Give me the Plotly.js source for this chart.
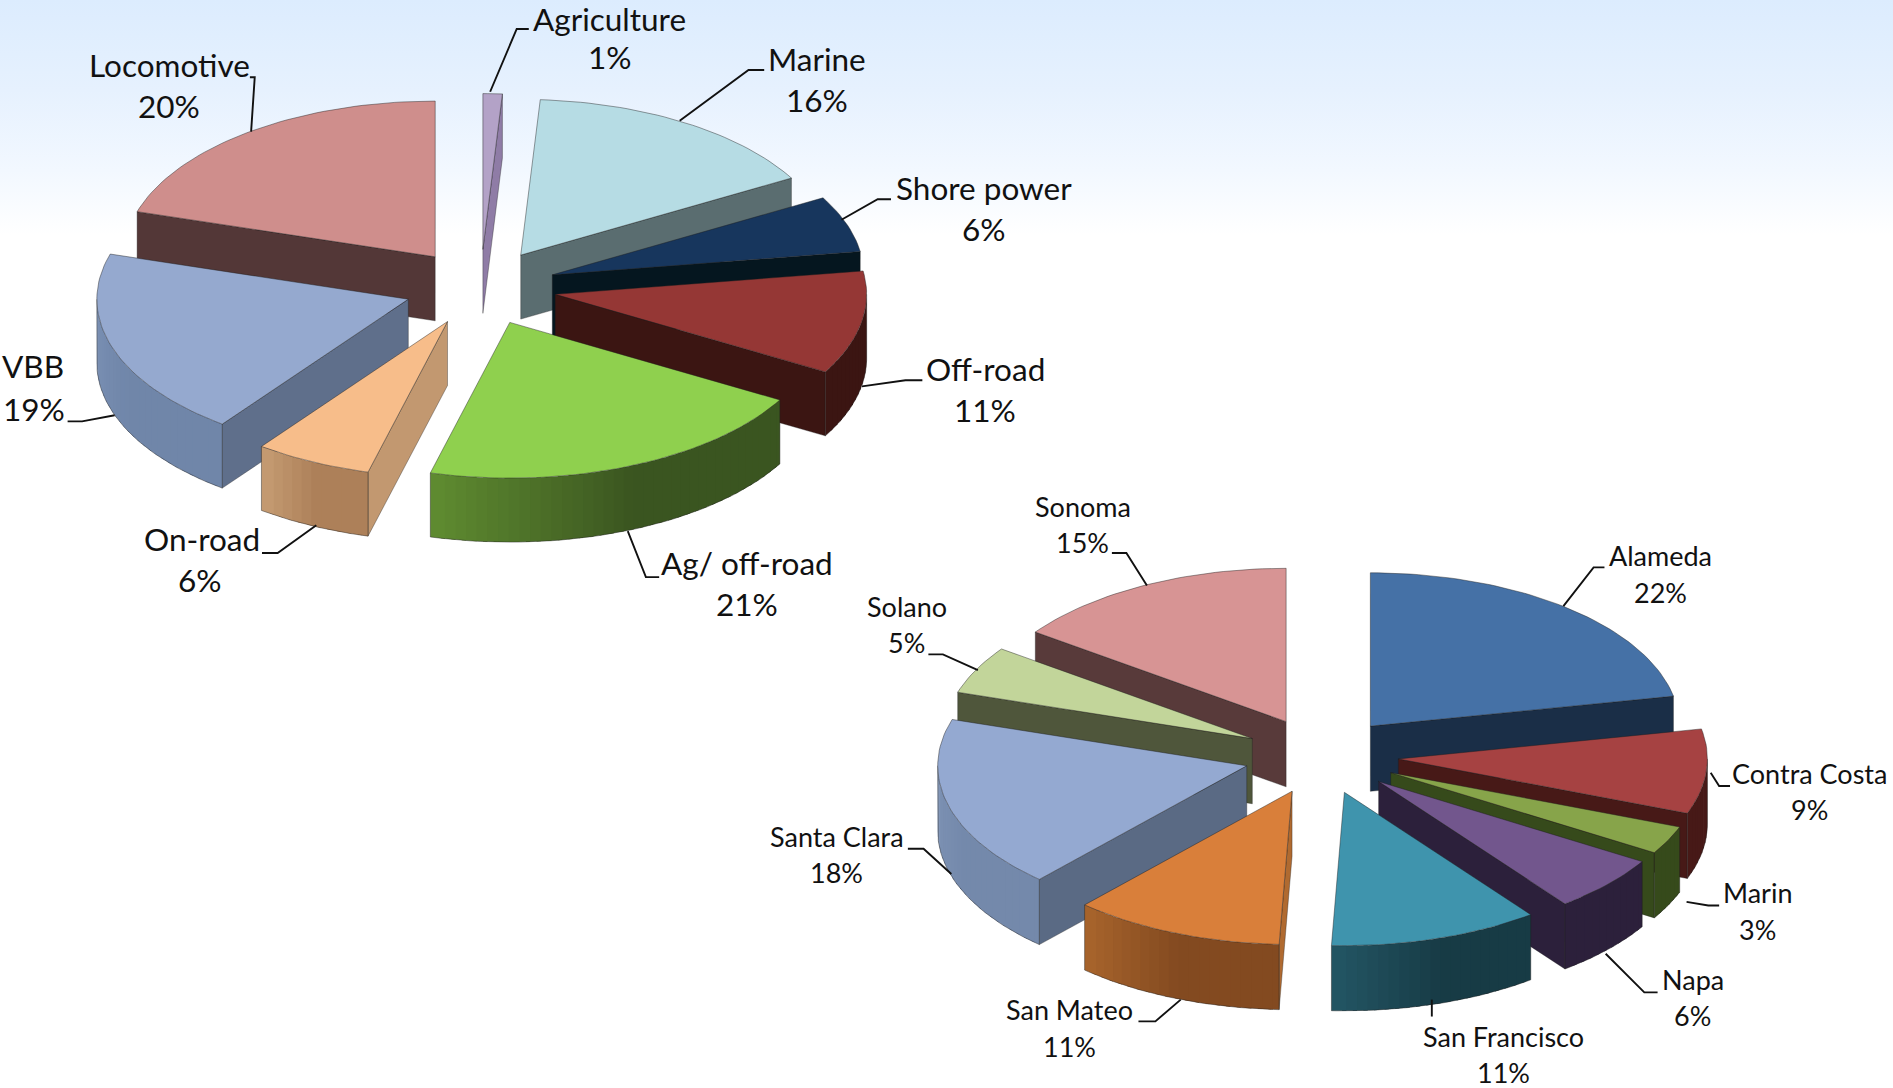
<!DOCTYPE html>
<html><head><meta charset="utf-8">
<script src="https://cdn.plot.ly/plotly-3.0.1.min.js"></script>
<style>
html,body{margin:0;padding:0;width:1893px;height:1088px;overflow:hidden;
background:linear-gradient(to bottom,#dcecfe 0,#e6f1fe 90px,#f2f8ff 170px,#ffffff 235px,#ffffff 100%);}
#chart{width:1893px;height:1088px}
</style></head><body><div id="chart"></div>
<script>
// ---------- data ----------
const sectorNames = ["Agriculture","Marine","Shore power","Off-road","Ag/ off-road","On-road","VBB","Locomotive"];
const sectorShares = [1,16,6,11,21,6,19,20];
const countyNames = ["Alameda","Contra Costa","Marin","Napa","San Francisco","San Mateo","Santa Clara","Solano","Sonoma"];
const countyShares = [22,9,3,6,11,11,18,5,15];

// ---------- styles ----------
const sectorTop  = ["#b3a2c7","#b6dce4","#17365d","#953735","#8fd04e","#f7bd8a","#95a9cf","#cf8e8c"];
const sectorWall = ["#8f7ca6","#5a6d70","#05161f","#3b1512","#3a5520","#c29870","#5f6f8b","#533737"];
const sectorRimL = ["#8f7ca6","#5a6d70","#05161f","#3b1512","#5f8b30","#c59b72","#7a90b4","#533737"];
const sectorRimR = ["#8f7ca6","#5a6d70","#05161f","#3b1512","#3a5520","#ad8059","#7086a9","#533737"];
const countyTop  = ["#4571a6","#a64242","#87a44a","#72568d","#3f94ad","#d97f3a","#94a9d1","#c2d59a","#d79494"];
const countyWall = ["#1a2e47","#471917","#364a1b","#2c203b","#173c46","#b06a30","#5a6a84","#4f563b","#583a3a"];
const countyRimL = ["#1a2e47","#471917","#364a1b","#2c203b","#235564","#a8642c","#7e93b5","#4f563b","#583a3a"];
const countyRimR = ["#1a2e47","#471917","#364a1b","#2c203b","#173b45","#834a20","#7489ab","#4f563b","#583a3a"];

const sectorLabelPos = [[505,17.5,505,49],[677,50,677,84],[815,157,815,191],[816,307,816,341],[619,468,619,502],[167,448,166,482],[27,305,28,340],[140,55,140,89]];
const countyLabelPos = [[1375,462,1375,492],[1499,642,1499,672],[1456,741,1456,771],[1402,813,1402,843],[1245,860,1245,890],[886,838,886,868],[693,694,693,724],[751,504,751,534],[897,421,897,451]];
const leaders = [
 "M406,76 L428,24 L438,24","M563,100 L620,58 L633,58","M697,182 L727,165 L738,165","M714,320 L750,315 L764,315",
 "M520,440 L535,478 L546,478","M262,435 L230,458 L217,458","M95,344 L68,349 L56,349","M208,109 L211,64 L207,64",
 "M1295,502 L1320,470 L1329,470","M1417,640 L1424,651 L1433,651","M1397,747 L1415,750 L1424,750","M1330,790 L1362,822 L1373,822",
 "M1186,828 L1186,842","M978,828 L957,846 L943,846","M788,724 L765,703 L752,703","M810,555 L781,542 L769,542","M950,485 L933,458 L921,458"];

const pies = [
 {names:sectorNames,shares:sectorShares,top:sectorTop,wall:sectorWall,rimL:sectorRimL,rimR:sectorRimR,pos:sectorLabelPos,
  cx:398,cy:238,rx:258,ry:129,depth:53,explode:0.244,warp:3.3,fs:31.5},
 {names:countyNames,shares:countyShares,top:countyTop,wall:countyWall,rimL:countyRimL,rimR:countyRimR,pos:countyLabelPos,
  cx:1094.5,cy:626,rx:256,ry:127,depth:54,explode:0.25,warp:1.2,fs:27}
];

// ---------- drawing ----------
const traces = [], annotations = [];
const rad = d => d*Math.PI/180;
function hex(c){return [1,3,5].map(i=>parseInt(c.substr(i,2),16));}
function mix(a,b,t){const A=hex(a),B=hex(b);return "rgb("+A.map((v,i)=>Math.round(v+(B[i]-v)*t)).join(",")+")";}
function poly(xs,ys,fill,line,w){
  traces.push({type:"scatter",mode:"lines",x:xs.concat(xs[0]),y:ys.concat(ys[0]),fill:"toself",fillcolor:fill,
    line:{color:line,width:w},hoverinfo:"skip",showlegend:false});
}
function outline(xs,ys){
  traces.push({type:"scatter",mode:"lines",x:xs,y:ys,line:{color:"rgba(30,30,30,0.55)",width:0.8},hoverinfo:"skip",showlegend:false});
}
pies.forEach(p=>{
  const total = p.shares.reduce((a,b)=>a+b,0);
  const warp = t => t - p.warp*Math.pow(Math.sin(rad(t/2)),2);
  let acc = 0;
  const slices = p.shares.map((v,i)=>{
    const a0 = warp(acc/total*360); acc += v; const a1 = warp(acc/total*360);
    const mid = (a0+a1)/2;
    return {i,a0,a1,mid,
      ax:p.cx+p.explode*p.rx*Math.sin(rad(mid)),
      ay:p.cy-p.explode*p.ry*Math.cos(rad(mid))};
  });
  slices.slice().sort((a,b)=>a.ay-b.ay).forEach(s=>{
    const pt = t => [s.ax+p.rx*Math.sin(rad(t)), s.ay-p.ry*Math.cos(rad(t))];
    // radial walls that face the viewer
    const mP = pt(s.mid);
    [s.a0,s.a1].forEach(t=>{
      const P = pt(t), dx=P[0]-s.ax, dy=P[1]-s.ay;
      const crossExt = dx*1;                         // d x (0,1)
      const crossMid = dx*(mP[1]-s.ay)-dy*(mP[0]-s.ax);
      if(crossExt*crossMid<0){
        poly([s.ax,P[0],P[0],s.ax],[s.ay,P[1],P[1]+p.depth,s.ay+p.depth],p.wall[s.i],"rgba(30,30,30,0.5)",0.7);
      }
    });
    // outer rim wall, drawn in overlapping strips for the left-to-right shading
    const r0=Math.max(s.a0,90), r1=Math.min(s.a1,270);
    if(r1>r0){
      const n=Math.max(2,Math.ceil((r1-r0)/2));
      for(let k=0;k<n;k++){
        const t0=Math.max(r0,r0+(r1-r0)*k/n-0.8), t1=r0+(r1-r0)*(k+1)/n;
        const left=(k+0.5)/n;                         // 0 = right end, 1 = left end
        const c=mix(p.rimL[s.i],p.rimR[s.i],Math.min(1,(1-left)*2));
        const xs=[],ys=[];
        for(let q=0;q<=3;q++){const P=pt(t0+(t1-t0)*q/3);xs.push(P[0]);ys.push(P[1]);}
        for(let q=3;q>=0;q--){const P=pt(t0+(t1-t0)*q/3);xs.push(P[0]);ys.push(P[1]+p.depth);}
        poly(xs,ys,c,c,0);
      }
      const bx=[],by=[];
      for(let t=r0;t<=r1+0.001;t+=(r1-r0)/40){const P=pt(t);bx.push(P[0]);by.push(P[1]+p.depth);}
      const L=pt(r1),R=pt(r0);
      outline([L[0],L[0]].concat(bx.slice().reverse()).concat([R[0],R[0]]),[L[1],L[1]+p.depth].concat(by.slice().reverse()).concat([R[1]+p.depth,R[1]]));
    }
    // top face
    const xs=[s.ax],ys=[s.ay];
    const steps=Math.max(4,Math.ceil((s.a1-s.a0)/1.5));
    for(let k=0;k<=steps;k++){const P=pt(s.a0+(s.a1-s.a0)*k/steps);xs.push(P[0]);ys.push(P[1]);}
    poly(xs,ys,p.top[s.i],"rgba(30,30,30,0.55)",0.8);
  });
  p.names.forEach((n,i)=>{
    const q=p.pos[i];
    const f={family:"Lato, sans-serif",size:p.fs,color:"#111"};
    annotations.push({xref:"x",yref:"y",x:q[0],y:q[1]-1.5,text:n,showarrow:false,font:f,xanchor:"center",yanchor:"middle",borderpad:0});
    annotations.push({xref:"x",yref:"y",x:q[2],y:q[3]-1.5,text:p.shares[i]+"%",showarrow:false,font:f,xanchor:"center",yanchor:"middle",borderpad:0});
  });
});
const layout = {
  width:1893,height:1088,margin:{l:0,r:0,t:0,b:0,pad:0},
  paper_bgcolor:"rgba(0,0,0,0)",plot_bgcolor:"rgba(0,0,0,0)",showlegend:false,
  xaxis:{range:[0,1568],visible:false,fixedrange:true},
  yaxis:{range:[901.2,0],visible:false,fixedrange:true},
  annotations:annotations,
  shapes:leaders.map(d=>({type:"path",path:d,xref:"x",yref:"y",line:{color:"#111",width:1.9}}))
};
Plotly.newPlot("chart",traces,layout,{displayModeBar:false,staticPlot:true});
</script></body></html>
